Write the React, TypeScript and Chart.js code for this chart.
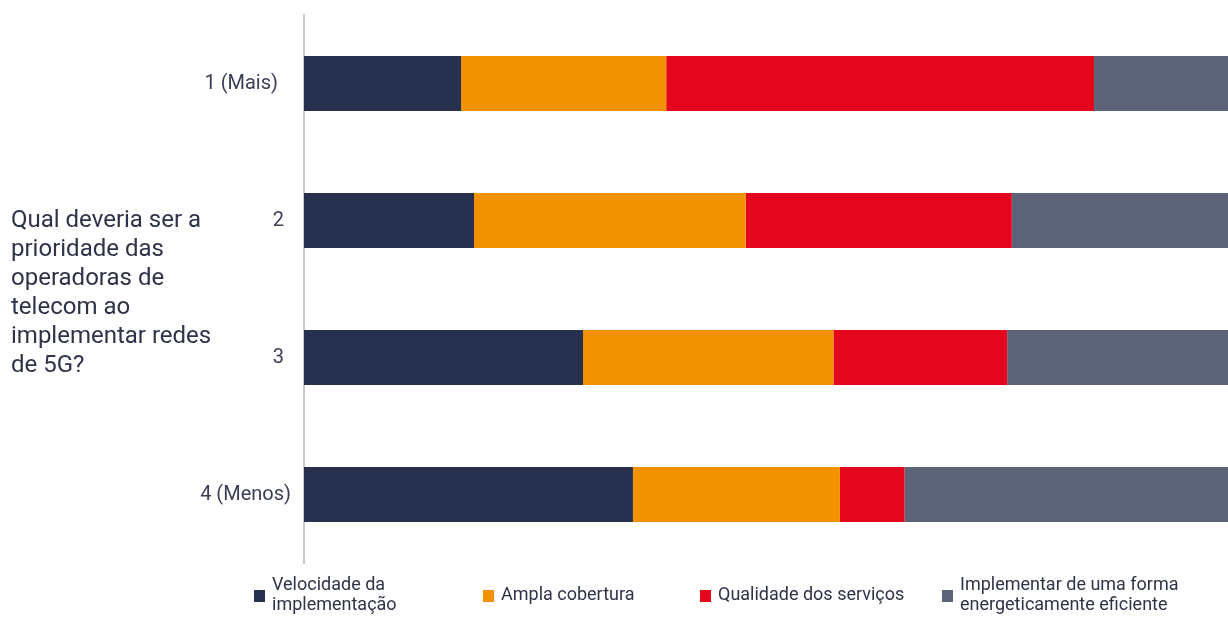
import React, { useEffect, useRef } from "react";
import { Chart, registerables } from "chart.js";

Chart.register(...registerables);

const categories = ["1 (Mais)", "2", "3", "4 (Menos)"];
const seriesNames = [
  ["Velocidade da", "implementação"],
  ["Ampla cobertura"],
  ["Qualidade dos serviços"],
  ["Implementar de uma forma", "energeticamente eficiente"],
];
const velocidade = [17.0, 18.4, 30.2, 35.6];
const ampla = [22.2, 29.4, 27.1, 22.4];
const qualidade = [46.3, 28.8, 18.8, 7.0];
const eficiente = [14.5, 23.4, 23.9, 35.0];
const questionLines = [
  "Qual deveria ser a",
  "prioridade das",
  "operadoras de",
  "telecom ao",
  "implementar redes",
  "de 5G?",
];

const colors = ["#283050", "#F39200", "#E3061D", "#5E6477"];
const tickRightOffsets = [26, 20, 20, 13];
const legendX = [254, 483, 700, 942];
const FONT = "Roboto, 'Noto Sans', sans-serif";
const TEXT = "#2E3347";

const decorPlugin = {
  id: "decor",
  afterDraw(chart: any) {
    const ctx = chart.ctx;
    const area = chart.chartArea;
    const yScale = chart.scales.y;
    ctx.save();
    // category labels
    ctx.font = `20px ${FONT}`;
    ctx.fillStyle = "#3A3F55";
    ctx.textAlign = "right";
    ctx.textBaseline = "middle";
    categories.forEach((c, i) => {
      const y = yScale.getPixelForValue(i);
      ctx.fillText(c, area.left - tickRightOffsets[i], y);
    });
    // question text
    ctx.font = `24px ${FONT}`;
    ctx.fillStyle = TEXT;
    ctx.textAlign = "left";
    ctx.textBaseline = "middle";
    questionLines.forEach((l, i) => {
      ctx.fillText(l, 11, 221 + i * 29);
    });
    // legend
    ctx.font = `18px ${FONT}`;
    const ly = 596;
    seriesNames.forEach((lines, i) => {
      const x = legendX[i];
      ctx.fillStyle = colors[i];
      ctx.fillRect(x, ly - 6, 11, 12);
      ctx.fillStyle = TEXT;
      ctx.textAlign = "left";
      ctx.textBaseline = "middle";
      const lh = 20;
      const start = ly - ((lines.length - 1) * lh) / 2;
      lines.forEach((t, j) => ctx.fillText(t, x + 18, start + j * lh - 1));
    });
    ctx.restore();
  },
};

export default function App() {
  const ref = useRef<HTMLCanvasElement>(null);
  useEffect(() => {
    if (!ref.current) return;
    const data = [velocidade, ampla, qualidade, eficiente];
    const chart = new Chart(ref.current, {
      type: "bar",
      data: {
        labels: categories,
        datasets: data.map((d, i) => ({
          label: seriesNames[i].join(" "),
          data: d,
          backgroundColor: colors[i],
          borderWidth: 0,
          categoryPercentage: 1,
          barPercentage: 0.4,
        })),
      },
      options: {
        indexAxis: "y",
        responsive: false,
        animation: false,
        layout: { padding: { left: 304, top: 15, bottom: 54, right: 0 } },
        plugins: {
          legend: { display: false },
          tooltip: { enabled: false },
          title: { display: false },
        },
        scales: {
          x: { stacked: true, min: 0, max: 100, display: false },
          y: {
            stacked: true,
            ticks: { display: false },
            grid: { display: false, drawTicks: false },
            border: { display: true, color: "#C8C8C8", width: 2 },
          },
        },
      },
      plugins: [decorPlugin],
    });
    return () => chart.destroy();
  }, []);
  return (
    <div style={{ position: "fixed", left: 0, top: 0, width: 1228, height: 617, background: "#fff" }}>
      <canvas ref={ref} width={1228} height={617} />
    </div>
  );
}
